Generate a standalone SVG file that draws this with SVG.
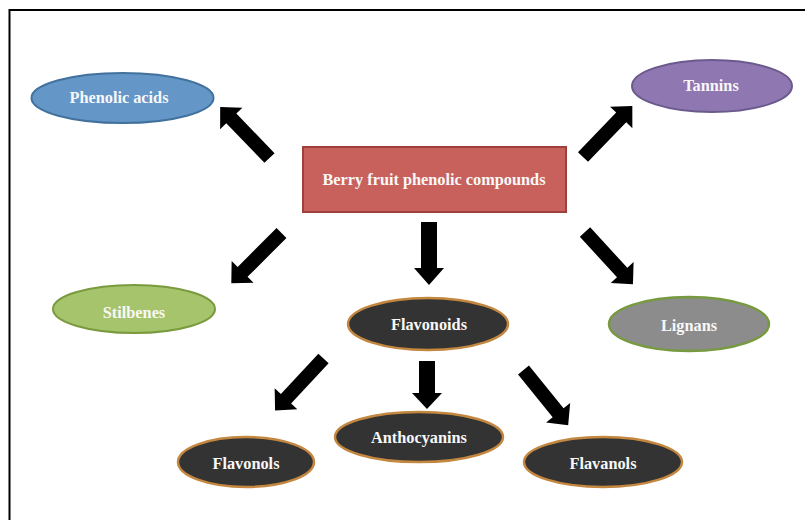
<svg xmlns="http://www.w3.org/2000/svg" xmlns:xlink="http://www.w3.org/1999/xlink" width="805" height="520" viewBox="0 0 805 520">
<style>
  .lbl { font-family: "Liberation Serif", "DejaVu Serif", serif; font-weight: bold; font-size: 16.3px; fill: #f8f8f8; text-anchor: middle; }
  .dark { fill: #333333; stroke: #c4873f; stroke-width: 2.5; }
  .arrow { fill: #000000; }
</style>
<defs>
  <path id="diag" d="M0,-7 L55,-7 L55,-15.5 L71,0 L55,15.5 L55,7 L0,7 Z"/>
  <path id="down1" d="M0,-8 L46,-8 L46,-15 L63,0 L46,15 L46,8 L0,8 Z"/>
  <path id="down2" d="M0,-8 L32,-8 L32,-15 L48,0 L32,15 L32,8 L0,8 Z"/>
</defs>
<rect x="9.5" y="10" width="900" height="600" fill="#ffffff" stroke="#000000" stroke-width="2"/>

<g id="connectors" class="arrow">
  <use xlink:href="#diag" transform="translate(269.5,158) rotate(-134)"/>
  <use xlink:href="#diag" transform="translate(281.5,233) rotate(135)"/>
  <use xlink:href="#diag" transform="translate(583,157) rotate(-46)"/>
  <use xlink:href="#diag" transform="translate(585,232) rotate(47.5)"/>
  <use xlink:href="#down1" transform="translate(429,222) rotate(90)"/>
  <use xlink:href="#diag" transform="translate(323.5,358.5) rotate(133)"/>
  <use xlink:href="#down2" transform="translate(427,361) rotate(90)"/>
  <use xlink:href="#diag" transform="translate(523.5,370) rotate(51)"/>
</g>

<g id="berry">
  <rect x="303" y="147" width="263" height="65" fill="#c8615c" stroke="#9e403c" stroke-width="2"/>
  <text class="lbl" x="434" y="185">Berry fruit phenolic compounds</text>
</g>
<g id="phenolic-acids">
  <ellipse cx="122.5" cy="98" rx="91" ry="25" fill="#6496c8" stroke="#41719c" stroke-width="2"/>
  <text class="lbl" x="119" y="103">Phenolic acids</text>
</g>
<g id="tannins">
  <ellipse cx="712" cy="86" rx="80" ry="26" fill="#8f77b2" stroke="#6b5a8c" stroke-width="2"/>
  <text class="lbl" x="711" y="91">Tannins</text>
</g>
<g id="stilbenes">
  <ellipse cx="134" cy="309" rx="81" ry="24" fill="#a6c46c" stroke="#7a9a3e" stroke-width="2"/>
  <text class="lbl" x="134" y="318">Stilbenes</text>
</g>
<g id="lignans">
  <ellipse cx="689" cy="324" rx="80" ry="27" fill="#8c8c8c" stroke="#779a40" stroke-width="2.5"/>
  <text class="lbl" x="689" y="331">Lignans</text>
</g>
<g id="flavonoids">
  <ellipse class="dark" cx="428" cy="324" rx="80" ry="26"/>
  <text class="lbl" x="429" y="330">Flavonoids</text>
</g>
<g id="anthocyanins">
  <ellipse class="dark" cx="419" cy="437" rx="84" ry="25"/>
  <text class="lbl" x="419" y="443">Anthocyanins</text>
</g>
<g id="flavonols">
  <ellipse class="dark" cx="246" cy="462" rx="68" ry="25"/>
  <text class="lbl" x="246" y="469">Flavonols</text>
</g>
<g id="flavanols">
  <ellipse class="dark" cx="603" cy="462" rx="79" ry="25"/>
  <text class="lbl" x="603" y="469">Flavanols</text>
</g>
</svg>
